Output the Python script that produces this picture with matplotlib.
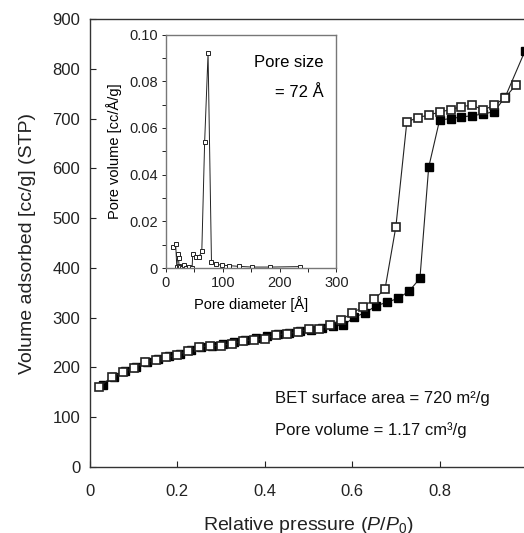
import matplotlib
matplotlib.use('Agg')
import matplotlib.pyplot as plt
from matplotlib.ticker import FuncFormatter, MultipleLocator

plt.rcParams['font.family'] = ['Liberation Sans', 'DejaVu Sans']
plt.rcParams['mathtext.fontset'] = 'custom'
plt.rcParams['mathtext.rm'] = 'Liberation Sans'
plt.rcParams['mathtext.it'] = 'Liberation Sans:italic'

# isotherm: adsorption (filled) and desorption (open)
ads_p = [0.03, 0.055, 0.08, 0.105, 0.13, 0.155, 0.18, 0.205, 0.23, 0.255, 0.28,
         0.305, 0.33, 0.355, 0.38, 0.405, 0.43, 0.455, 0.48, 0.505, 0.53, 0.555,
         0.58, 0.605, 0.63, 0.655, 0.68, 0.705, 0.73, 0.755, 0.775, 0.8, 0.825,
         0.85, 0.875, 0.9, 0.925, 0.95, 0.995]
ads_v = [165, 180, 192, 201, 210, 216, 222, 227, 236, 242, 244, 248, 252, 256,
         260, 264, 267, 270, 273, 276, 279, 283, 285, 301, 310, 324, 331, 339,
         353, 379, 602, 697, 700, 703, 706, 709, 714, 743, 835]

des_p = [0.02, 0.05, 0.075, 0.1, 0.125, 0.15, 0.175, 0.2, 0.225, 0.25, 0.275,
         0.3, 0.325, 0.35, 0.375, 0.4, 0.425, 0.45, 0.475, 0.5, 0.525, 0.55,
         0.575, 0.6, 0.625, 0.65, 0.675, 0.7, 0.725, 0.75, 0.775, 0.8, 0.825,
         0.85, 0.875, 0.9, 0.925, 0.95, 0.975]
des_v = [160, 181, 191, 199, 210, 215, 221, 225, 234, 241, 244, 244, 248, 254,
         255, 258, 265, 268, 271, 277, 278, 285, 296, 309, 322, 337, 357, 483,
         693, 702, 707, 713, 718, 724, 727, 717, 727, 742, 768]

# pore size distribution (inset)
pd_x = [13, 17, 19, 21, 22, 23, 25, 28, 32, 36, 41, 46, 47, 52, 58, 63, 68,
        74, 80, 88, 98, 111, 129, 151, 183, 236]
pd_y = [0.0088, 0.0102, 0.0005, 0.0062, 0.0043, 0.0008, 0.0003, 0.0002,
        0.0012, 0.0002, 0.0003, 0.0002, 0.0059, 0.0046, 0.0047, 0.0071, 0.054,
        0.092, 0.0027, 0.0016, 0.0012, 0.0010, 0.0007, 0.0004, 0.0004, 0.0006]

fig = plt.figure(figsize=(5.24, 5.33), dpi=100)
ax = fig.add_axes([90/524, (533-467)/533, 437/524, 448/533])

ax.plot(ads_p, ads_v, '-', color='#222222', lw=0.8, marker='s', ms=6.2,
        mfc='black', mec='black', mew=1.0, zorder=2)
ax.plot(des_p, des_v, '-', color='#222222', lw=0.8, marker='s', ms=6.2,
        mfc='white', mec='#222222', mew=1.2, zorder=3)

ax.set_xlim(0, 1)
ax.set_ylim(0, 900)
ax.xaxis.set_major_locator(MultipleLocator(0.2))
ax.yaxis.set_major_locator(MultipleLocator(100))
ax.xaxis.set_major_formatter(FuncFormatter(lambda v, p: '%g' % round(v, 2)))
ax.tick_params(direction='in', length=4, width=0.8, labelsize=12, colors='#222222')
ax.tick_params(axis='x', pad=12)
ax.tick_params(axis='y', pad=7)
for s in ax.spines.values():
    s.set_color('#333333')
    s.set_linewidth(1.0)
ax.set_xlabel(r'Relative pressure ($\mathit{P}$/$\mathit{P}_0$)', fontsize=14,
              labelpad=12, color='#222222')
ax.set_ylabel('Volume adsorbed [cc/g] (STP)', fontsize=14, labelpad=12,
              color='#222222')

ax.text(0.423, 137, 'BET surface area = 720 m\u00b2/g', fontsize=12,
        va='center', ha='left', color='#111111')
ax.text(0.423, 75, 'Pore volume = 1.17 cm\u00b3/g', fontsize=12,
        va='center', ha='left', color='#111111')

# inset
ins = fig.add_axes([166/524, (533-268)/533, 170.5/524, 233.5/533])
ins.plot(pd_x, pd_y, '-', color='#222222', lw=0.7, marker='s', ms=3.2,
         mfc='white', mec='#222222', mew=0.7)
ins.set_xlim(0, 300)
ins.set_ylim(0, 0.10)
ins.xaxis.set_major_locator(MultipleLocator(100))
ins.xaxis.set_minor_locator(MultipleLocator(50))
ins.yaxis.set_major_locator(MultipleLocator(0.02))
ins.yaxis.set_minor_locator(MultipleLocator(0.01))
ins.yaxis.set_major_formatter(FuncFormatter(lambda v, p: '0' if v == 0 else '%.2f' % v))
ins.tick_params(which='both', direction='out', length=3, width=0.7,
                labelsize=10.5, colors='#222222', pad=3)
for s in ins.spines.values():
    s.set_color('#777777')
    s.set_linewidth(1.0)
ins.set_xlabel('Pore diameter [\u00c5]', fontsize=10.5, labelpad=4)
ins.set_ylabel('Pore volume [cc/\u00c5/g]', fontsize=10.5, labelpad=5)
ins.text(277, 0.0879, 'Pore size', fontsize=12, ha='right', va='center')
ins.text(277, 0.0753, '= 72 \u00c5', fontsize=12, ha='right', va='center')

fig.savefig('out.png', dpi=100)
